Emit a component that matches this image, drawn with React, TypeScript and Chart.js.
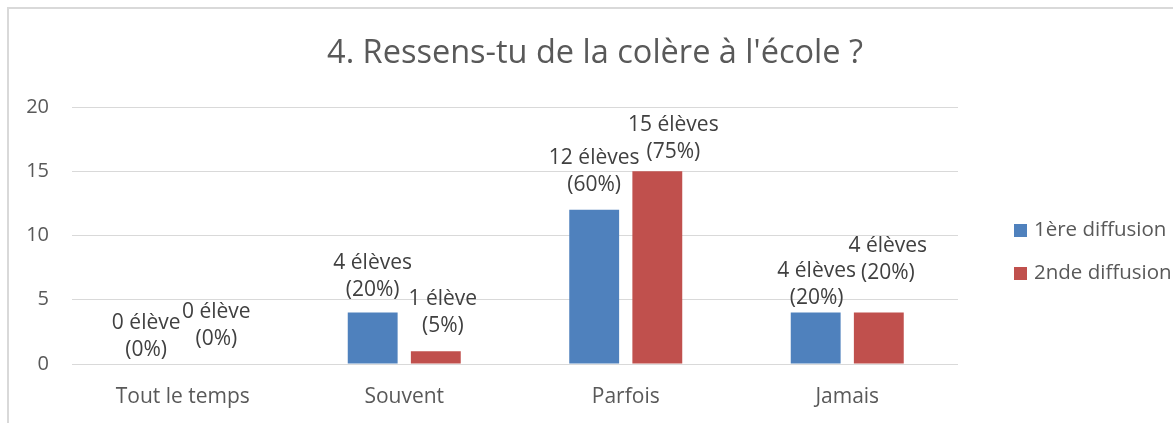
import React, { useEffect, useRef } from "react";
import { Chart, registerables } from "chart.js";

Chart.register(...registerables);

const titleText = "4. Ressens-tu de la colère à l'école ?";
const categories = ["Tout le temps", "Souvent", "Parfois", "Jamais"];
const seriesNames = ["1ère diffusion", "2nde diffusion"];
const firstDiffusion = [0, 4, 12, 4];
const secondDiffusion = [0, 1, 15, 4];
const totalStudents = 20;
const yTicks = [0, 5, 10, 15, 20];

// label placement tweaks (px, relative to each bar top / centre)
const labelGap1 = [14, 23, 25, 15];
const labelShift1 = [-5, 0, 0, 1];
const labelGap2 = [25, 25, 19, 40];
const labelShift2 = [2, 7, 16, 9];

const FONT = "'Open Sans'";
const TEXT = "#595959";
const LABEL = "#404040";
const GRID = "#d9d9d9";

const framePlugin = {
  id: "frame",
  beforeDraw(chart: any) {
    const ctx = chart.ctx;
    ctx.save();
    ctx.fillStyle = "#ffffff";
    ctx.fillRect(0, 0, chart.width, chart.height);
    ctx.strokeStyle = GRID;
    ctx.lineWidth = 2;
    ctx.beginPath();
    ctx.moveTo(8, chart.height + 5);
    ctx.lineTo(8, 8);
    ctx.lineTo(chart.width + 5, 8);
    ctx.stroke();
    ctx.restore();
  },
};

const titlePlugin = {
  id: "centredTitle",
  afterDraw(chart: any) {
    const ctx = chart.ctx;
    ctx.save();
    ctx.font = `32.5px ${FONT}`;
    ctx.fillStyle = TEXT;
    ctx.textAlign = "center";
    ctx.textBaseline = "middle";
    ctx.fillText(titleText, chart.chartArea.left + 523, 54);
    ctx.restore();
  },
};

const labelPlugin = {
  id: "barLabels",
  afterDatasetsDraw(chart: any) {
    const ctx = chart.ctx;
    const gaps = [labelGap1, labelGap2];
    const shifts = [labelShift1, labelShift2];
    ctx.save();
    ctx.font = `21px ${FONT}`;
    ctx.fillStyle = LABEL;
    ctx.textAlign = "center";
    ctx.textBaseline = "middle";
    chart.data.datasets.forEach((ds: any, di: number) => {
      const meta = chart.getDatasetMeta(di);
      meta.data.forEach((el: any, i: number) => {
        const v = ds.data[i];
        const pct = Math.round((v / totalStudents) * 100);
        const line1 = `${v} élève${v > 1 ? "s" : ""}`;
        const line2 = `(${pct}%)`;
        const x = el.x + shifts[di][i];
        const yb = el.y - gaps[di][i];
        ctx.fillText(line1, x, yb - 27);
        ctx.fillText(line2, x, yb);
      });
    });
    ctx.restore();
  },
};

const legendPlugin = {
  id: "sideLegend",
  afterDraw(chart: any) {
    const ctx = chart.ctx;
    const area = chart.chartArea;
    const mid = (area.top + area.bottom) / 2;
    ctx.save();
    ctx.font = `20.5px ${FONT}`;
    ctx.textBaseline = "middle";
    ctx.textAlign = "left";
    chart.data.datasets.forEach((ds: any, di: number) => {
      const y = mid - 5 + di * 43;
      const x = area.right + 56;
      ctx.fillStyle = ds.backgroundColor;
      ctx.fillRect(x, y - 6.5, 13, 13);
      ctx.fillStyle = TEXT;
      ctx.fillText(ds.label, x + 20, y);
    });
    ctx.restore();
  },
};

export default function App() {
  const ref = useRef<HTMLCanvasElement>(null);
  useEffect(() => {
    if (!ref.current) return;
    const chart = new Chart(ref.current, {
      type: "bar",
      data: {
        labels: categories,
        datasets: [
          {
            label: seriesNames[0],
            data: firstDiffusion,
            backgroundColor: "#4F81BD",
            categoryPercentage: 0.57,
            barPercentage: 0.79,
          },
          {
            label: seriesNames[1],
            data: secondDiffusion,
            backgroundColor: "#C0504D",
            categoryPercentage: 0.57,
            barPercentage: 0.79,
          },
        ],
      },
      options: {
        responsive: false,
        animation: false,
        devicePixelRatio: 1,
        layout: { padding: { left: 0, right: 215, top: 107, bottom: 0 } },
        plugins: {
          legend: { display: false },
          tooltip: { enabled: false },
          title: { display: false },
        },
        scales: {
          x: {
            grid: { display: false },
            border: { display: false },
            ticks: {
              color: TEXT,
              font: { family: FONT, size: 21 },
              padding: 12,
            },
            afterFit(scale: any) {
              scale.height = 59;
            },
          },
          y: {
            min: 0,
            max: 20,
            afterBuildTicks(scale: any) {
              scale.ticks = yTicks.map((v) => ({ value: v }));
            },
            grid: { color: GRID, drawTicks: false },
            border: { display: false },
            ticks: {
              color: TEXT,
              font: { family: FONT, size: 20 },
              padding: 23,
            },
            afterFit(scale: any) {
              scale.width = 72;
            },
          },
        },
      },
      plugins: [framePlugin, labelPlugin, legendPlugin, titlePlugin],
    });
    return () => chart.destroy();
  }, []);
  return (
    <div style={{ position: "fixed", left: 0, top: 0, width: 1173, height: 423 }}>
      <canvas ref={ref} width={1173} height={423} style={{ width: 1173, height: 423 }} />
    </div>
  );
}
